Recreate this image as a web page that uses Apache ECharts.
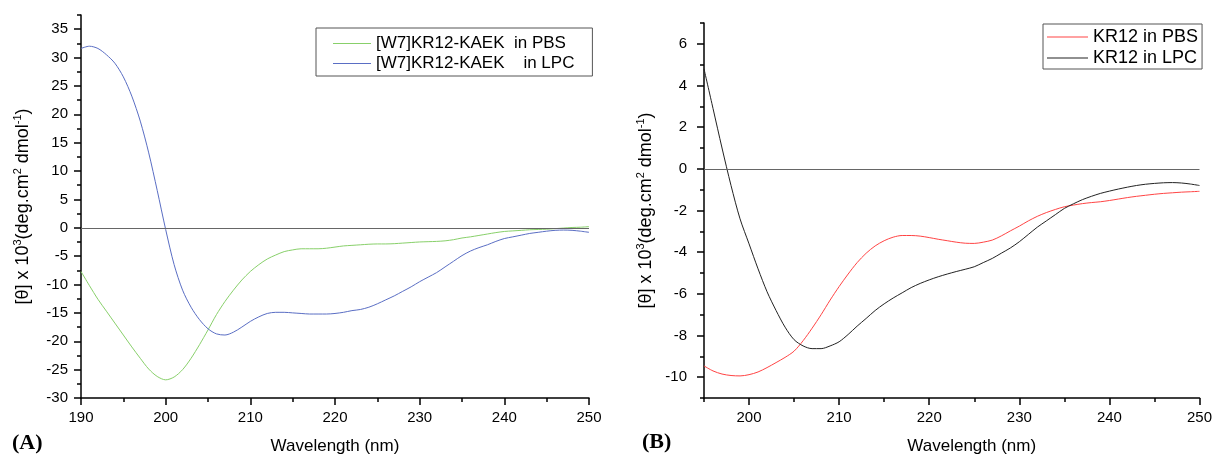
<!DOCTYPE html>
<html><head><meta charset="utf-8">
<script src="https://cdn.jsdelivr.net/npm/echarts@6/dist/echarts.min.js"></script>
<style>html,body{margin:0;padding:0;background:#fff}#c{width:1215px;height:460px}</style>
</head><body><div id="c"></div>
<script>
// ---------- Panel A data ----------
const wavelengthA = [190,191,192,193,194,195,196,197,198,199,200,201,202,203,204,205,206,207,208,209,210,211,212,213,214,215,216,217,218,219,220,221,222,223,224,225,226,227,228,229,230,231,232,233,234,235,236,237,238,239,240,241,242,243,244,245,246,247,248,249,250];
const w7PBS = [-7.7,-10.2,-12.6,-14.7,-16.8,-18.9,-21.0,-23.0,-24.9,-26.2,-26.8,-26.3,-25.0,-23.0,-20.6,-18.0,-15.3,-13.0,-11.0,-9.2,-7.7,-6.5,-5.5,-4.8,-4.2,-3.9,-3.7,-3.7,-3.7,-3.6,-3.4,-3.2,-3.1,-3.0,-2.9,-2.85,-2.85,-2.8,-2.7,-2.6,-2.5,-2.45,-2.4,-2.3,-2.1,-1.8,-1.6,-1.35,-1.1,-0.85,-0.65,-0.55,-0.45,-0.35,-0.3,-0.25,-0.15,-0.05,0.05,0.1,0.2];
const w7LPC = [31.6,32.0,31.6,30.5,29.0,26.6,23.2,18.8,13.2,6.6,-0.3,-6.5,-11.0,-14.0,-16.2,-17.8,-18.7,-18.9,-18.4,-17.5,-16.5,-15.7,-15.1,-14.9,-14.9,-15.0,-15.1,-15.2,-15.2,-15.2,-15.1,-14.9,-14.6,-14.4,-14.0,-13.4,-12.7,-12.0,-11.2,-10.4,-9.5,-8.7,-7.9,-6.9,-5.9,-4.9,-4.1,-3.5,-3.0,-2.4,-1.9,-1.6,-1.3,-1.0,-0.8,-0.6,-0.45,-0.4,-0.45,-0.6,-0.8];
const xTicksA = [190,200,210,220,230,240,250];
const yTicksA = [-30,-25,-20,-15,-10,-5,0,5,10,15,20,25,30,35];

// ---------- Panel B data ----------
const wavelengthB = [195,196,197,198,199,200,201,202,203,204,205,206,207,208,209,210,211,212,213,214,215,216,217,218,219,220,221,222,223,224,225,226,227,228,229,230,231,232,233,234,235,236,237,238,239,240,241,242,243,244,245,246,247,248,249,250];
const kr12PBS = [-9.46,-9.7,-9.85,-9.92,-9.94,-9.88,-9.75,-9.54,-9.3,-9.05,-8.75,-8.25,-7.65,-7.0,-6.3,-5.65,-5.05,-4.5,-4.05,-3.7,-3.45,-3.28,-3.2,-3.2,-3.23,-3.3,-3.38,-3.45,-3.52,-3.57,-3.58,-3.52,-3.42,-3.22,-2.98,-2.75,-2.5,-2.28,-2.1,-1.95,-1.82,-1.74,-1.67,-1.62,-1.58,-1.52,-1.45,-1.38,-1.32,-1.27,-1.22,-1.18,-1.15,-1.12,-1.1,-1.08];
const kr12LPC = [4.8,2.9,1.0,-0.8,-2.4,-3.6,-4.8,-5.9,-6.8,-7.6,-8.2,-8.5,-8.63,-8.63,-8.5,-8.3,-7.95,-7.55,-7.18,-6.8,-6.48,-6.2,-5.95,-5.7,-5.5,-5.33,-5.18,-5.05,-4.93,-4.82,-4.7,-4.5,-4.3,-4.05,-3.8,-3.5,-3.15,-2.8,-2.5,-2.2,-1.9,-1.68,-1.48,-1.32,-1.18,-1.07,-0.97,-0.88,-0.8,-0.74,-0.7,-0.67,-0.66,-0.68,-0.73,-0.8];
const xTicksB = [200,210,220,230,240,250];
const yTicksB = [-10,-8,-6,-4,-2,0,2,4,6];

const seriesNames = ['[W7]KR12-KAEK  in PBS','[W7]KR12-KAEK    in LPC','KR12 in PBS','KR12 in LPC'];
const colors = ['#88d06a','#5a6ec4','#ff4444','#222222'];

const FONT = "'Liberation Sans', Arial, sans-serif";
const zip = (xs, ys) => xs.map((x, i) => [x, ys[i]]);

const axisLine = {show:true, onZero:false, lineStyle:{color:'#000', width:1.5}};
const noLine = {show:false, onZero:false};
const yName = '{t|[θ] x 10}{s|3}{t|(deg.cm}{s|2}{t| dmol}{s|-1}{t|)}';
const yNameStyle = {
  rich: {
    t: {fontSize:18, fontFamily:FONT, color:'#000', lineHeight:22, verticalAlign:'middle'},
    s: {fontSize:11, fontFamily:FONT, color:'#000', lineHeight:22, verticalAlign:'top'}
  }
};
const xNameStyle = {fontSize:17, fontFamily:FONT, color:'#000'};
const lbl = {color:'#000', fontSize:15, fontFamily:FONT};
const tickStyle = {color:'#000', width:1.5};

const chart = echarts.init(document.getElementById('c'), null, {renderer:'canvas'});
chart.setOption({
  animation:false,
  backgroundColor:'#fff',
  grid:[
    {left:81, top:15, width:508, height:389},
    {left:704, top:23, width:498, height:381}
  ],
  xAxis:[
    {type:'value', gridIndex:0, position:'bottom', min:190, max:250, interval:10,
     axisLine, splitLine:{show:false},
     axisTick:{length:7, lineStyle:tickStyle},
     minorTick:{show:true, splitNumber:2, length:4, lineStyle:tickStyle},
     axisLabel:{...lbl, margin:12},
     name:'Wavelength (nm)', nameLocation:'middle', nameGap:40, nameTextStyle:xNameStyle},
    {type:'value', gridIndex:1, position:'bottom', min:195, max:250, interval:5,
     axisLine, splitLine:{show:false},
     axisTick:{length:4, lineStyle:tickStyle},
     axisLabel:{show:false}},
    {type:'value', gridIndex:1, position:'bottom', offset:0, min:195, max:250,
     axisLine:noLine, splitLine:{show:false},
     axisTick:{length:7, customValues:xTicksB, lineStyle:tickStyle},
     axisLabel:{...lbl, margin:12, customValues:xTicksB},
     name:'Wavelength (nm)', nameLocation:'middle', nameGap:40,
     nameTextStyle:{...xNameStyle, padding:[0,0,0,40]}}
  ],
  yAxis:[
    {type:'value', gridIndex:0, position:'left', min:-30, max:37.5, interval:2.5,
     axisLine, splitLine:{show:false},
     axisTick:{length:4, lineStyle:tickStyle},
     axisLabel:{show:false}},
    {type:'value', gridIndex:0, position:'left', offset:0, min:-30, max:37.5,
     axisLine:noLine, splitLine:{show:false},
     axisTick:{length:7, customValues:yTicksA, lineStyle:tickStyle},
     axisLabel:{...lbl, margin:13, customValues:yTicksA},
     name:yName, nameLocation:'middle', nameRotate:90, nameGap:47, nameTextStyle:yNameStyle},
    {type:'value', gridIndex:1, position:'left', min:-11, max:7, interval:1,
     axisLine, splitLine:{show:false},
     axisTick:{length:4, lineStyle:tickStyle},
     axisLabel:{show:false}},
    {type:'value', gridIndex:1, position:'left', offset:0, min:-11, max:7,
     axisLine:noLine, splitLine:{show:false},
     axisTick:{length:7, customValues:yTicksB, lineStyle:tickStyle},
     axisLabel:{...lbl, margin:17, customValues:yTicksB},
     name:yName, nameLocation:'middle', nameRotate:90, nameGap:47, nameTextStyle:yNameStyle}
  ],
  legend:[
    {data:[seriesNames[0], seriesNames[1]], orient:'vertical', left:316, top:28,
     icon:'rect', itemWidth:38, itemHeight:1, itemGap:3,
     padding:[7,18,4,17], borderColor:'#555', borderWidth:1,
     textStyle:{fontSize:17, fontFamily:FONT, color:'#000', lineHeight:17}},
    {data:[seriesNames[2], seriesNames[3]], orient:'vertical', left:1043, top:24,
     icon:'rect', itemWidth:41, itemHeight:1, itemGap:3,
     padding:[4,4,2,4], borderColor:'#555', borderWidth:1,
     textStyle:{fontSize:18, fontFamily:FONT, color:'#000', lineHeight:18}}
  ],
  series:[
    {name:seriesNames[0], type:'line', xAxisIndex:0, yAxisIndex:0, data:zip(wavelengthA, w7PBS),
     showSymbol:false, symbol:'none', smooth:0.3, color:colors[0], lineStyle:{width:1, color:colors[0]}},
    {name:seriesNames[1], type:'line', xAxisIndex:0, yAxisIndex:0, data:zip(wavelengthA, w7LPC),
     showSymbol:false, symbol:'none', smooth:0.3, color:colors[1], lineStyle:{width:1, color:colors[1]},
     markLine:{silent:true, symbol:'none', label:{show:false}, lineStyle:{color:'#666', width:1, type:'solid'}, data:[{yAxis:0}]}},
    {name:seriesNames[2], type:'line', xAxisIndex:1, yAxisIndex:2, data:zip(wavelengthB, kr12PBS),
     showSymbol:false, symbol:'none', smooth:0.3, color:colors[2], lineStyle:{width:1, color:colors[2]}},
    {name:seriesNames[3], type:'line', xAxisIndex:1, yAxisIndex:2, data:zip(wavelengthB, kr12LPC),
     showSymbol:false, symbol:'none', smooth:0.3, color:colors[3], lineStyle:{width:1, color:colors[3]},
     markLine:{silent:true, symbol:'none', label:{show:false}, lineStyle:{color:'#666', width:1, type:'solid'}, data:[{yAxis:0}]}}
  ],
  graphic:[
    {type:'text', left:12, top:432, style:{text:'(A)', font:"bold 22px 'Liberation Serif', 'Times New Roman', serif", fill:'#000'}},
    {type:'text', left:642, top:431, style:{text:'(B)', font:"bold 22px 'Liberation Serif', 'Times New Roman', serif", fill:'#000'}}
  ]
});
</script></body></html>
